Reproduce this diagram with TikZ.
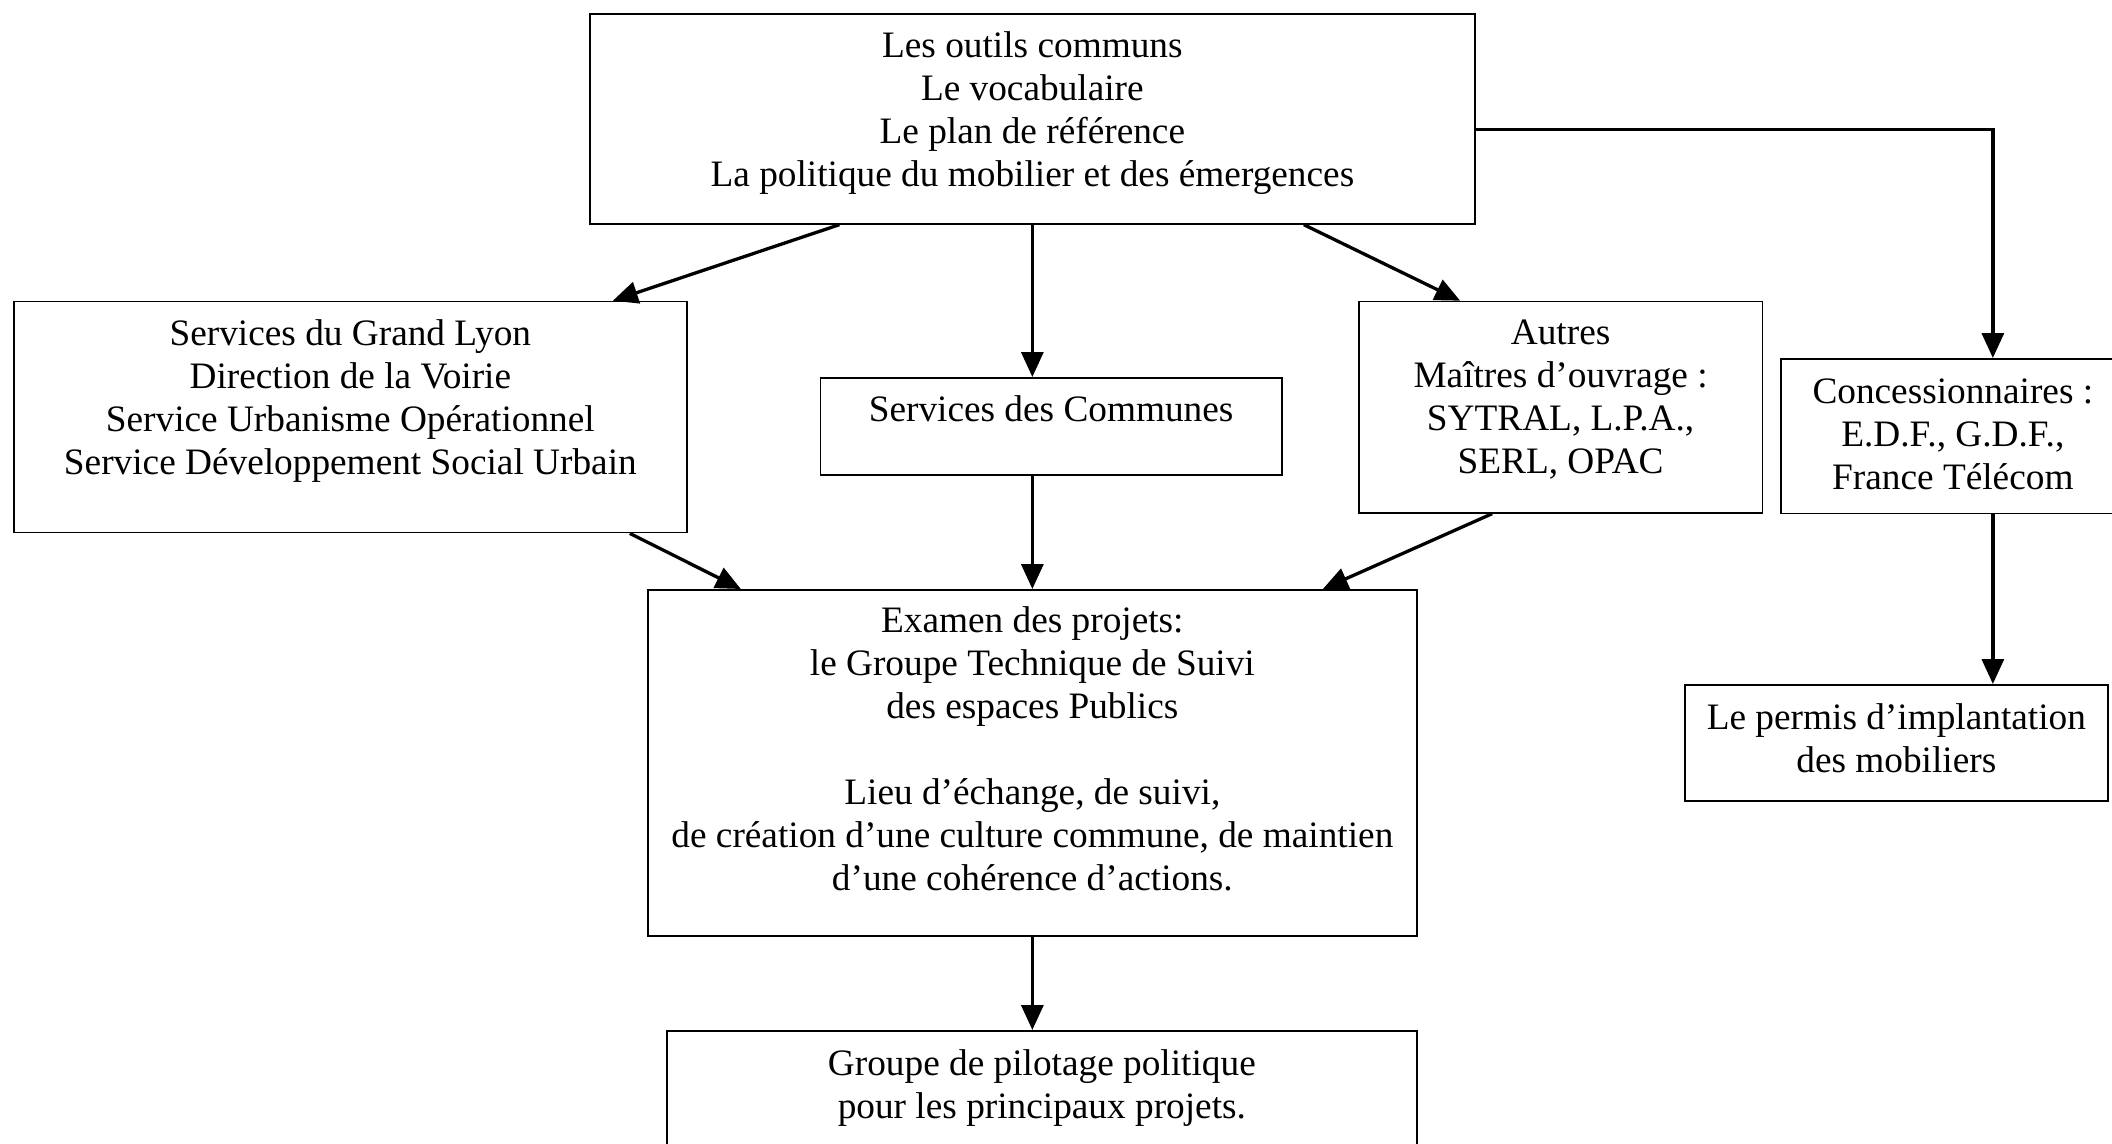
\documentclass[tikz,border=0pt]{standalone}
\usepackage{fontspec}
\setmainfont{Liberation Serif}
\usetikzlibrary{arrows.meta}

% first-line strut: the first baseline sits a fixed distance below the text block top
\newcommand\firststrut{\rule{0pt}{30pt}}

\begin{document}
\begin{tikzpicture}[x=1pt, y=-1pt,
  box/.style={draw=black, line width=1.7pt, rectangle, inner sep=0pt, anchor=north west},
  txt/.style={font=\fontsize{37.3}{43}\selectfont, align=center, inner sep=0pt, anchor=north},
  link/.style={line width=3.3pt, -{Triangle[length=25pt,width=22pt]}}
]
\useasboundingbox (0,0) rectangle (2112,1143);
\clip (0,0) rectangle (2112,1143);

% boxes
\node[box, minimum width=885pt, minimum height=210pt] (top) at (589,13) {};
\node[box, minimum width=673pt, minimum height=231pt] (left) at (13,300.7) {};
\node[box, minimum width=461.5pt, minimum height=97pt] (comm) at (819.5,377) {};
\node[box, minimum width=403.5pt, minimum height=211.3pt] (autres) at (1358,300.7) {};
\node[box, minimum width=344pt, minimum height=154.5pt] (conc) at (1780,358) {};
\node[box, minimum width=423pt, minimum height=116pt] (permis) at (1684,684) {};
\node[box, minimum width=769pt, minimum height=346pt] (examen) at (647,589) {};
\node[box, minimum width=750pt, minimum height=160pt] (groupe) at (666,1030) {};

% texts, top aligned inside their boxes
\node[txt] (topT) at ([yshift=-14.5pt]top.north) {\firststrut Les outils communs\\Le vocabulaire\\Le plan de référence\\La politique du mobilier et des émergences};
\node[txt] (leftT) at ([yshift=-14.5pt]left.north) {\firststrut Services du Grand Lyon\\Direction de la Voirie\\Service Urbanisme Opérationnel\\Service Développement Social Urbain};
\node[txt] (commT) at ([yshift=-14.5pt]comm.north) {\firststrut Services des Communes};
\node[txt] (autresT) at ([yshift=-14pt]autres.north) {\firststrut Autres\\Maîtres d’ouvrage :\\SYTRAL, L.P.A.,\\SERL, OPAC};
\node[txt] (concT) at ([yshift=-15.5pt]conc.north) {\firststrut Concessionnaires :\\E.D.F., G.D.F.,\\France Télécom};
\node[txt] (permisT) at ([yshift=-15pt]permis.north) {\firststrut Le permis d’implantation\\des mobiliers};
\node[txt] (examenT) at ([yshift=-13.5pt]examen.north) {\firststrut Examen des projets:\\le Groupe Technique de Suivi\\des espaces Publics\\[43pt]Lieu d’échange, de suivi,\\de création d’une culture commune, de maintien\\d’une cohérence d’actions.};
\node[txt] (groupeT) at ([yshift=-15.5pt]groupe.north) {\firststrut Groupe de pilotage politique\\pour les principaux projets.};

% connectors
\draw[link] ([xshift=-193pt]top.south) -- ([xshift=262.5pt]left.north);
\draw[link] (top.south) -- (top.south |- comm.north);
\draw[link] ([xshift=271.5pt]top.south) -- ([xshift=-100.5pt]autres.north);
\draw[link] ([yshift=-10.5pt]top.east) -| ([xshift=40pt]conc.north);
\draw[link] ([xshift=279.5pt]left.south) -- ([xshift=-291.5pt]examen.north);
\draw[link] (examen.north |- comm.south) -- (examen.north);
\draw[link] ([xshift=-68.5pt]autres.south) -- ([xshift=290.5pt]examen.north);
\draw[link] ([xshift=40pt]conc.south) -- ([xshift=40pt]conc.south |- permis.north);
\draw[link] (examen.south) -- (examen.south |- groupe.north);
\end{tikzpicture}
\end{document}
